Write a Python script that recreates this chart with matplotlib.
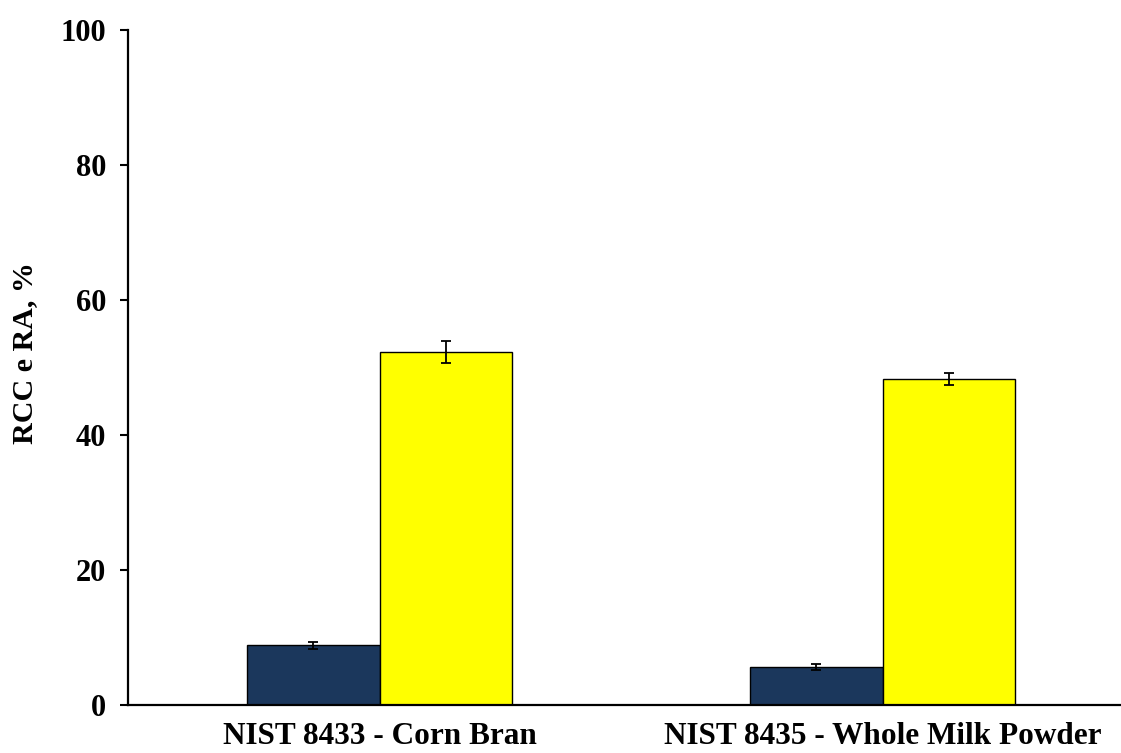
import matplotlib
matplotlib.use("Agg")
import matplotlib.pyplot as plt
import numpy as np

# Data
categories = ["NIST 8433 - Corn Bran", "NIST 8435 - Whole Milk Powder"]
rcc_values = [8.9, 5.7]
rcc_errors = [0.5, 0.4]
ra_values = [52.3, 48.3]
ra_errors = [1.6, 0.9]
y_ticks = [0, 20, 40, 60, 80, 100]

plt.rcParams["font.family"] = ["Liberation Serif", "DejaVu Serif"]
plt.rcParams["font.weight"] = "bold"

fig = plt.figure(figsize=(11.21, 7.53), dpi=100)
ax = fig.add_axes([128 / 1121, 47.7 / 753, 1006 / 1121, 675 / 753])

x = np.arange(len(categories))
w = 0.2626

err_kw = dict(elinewidth=1.3, capthick=1.3, ecolor="black")
ax.bar(x - w / 2, rcc_values, w, color="#1B375C", edgecolor="black",
       linewidth=1.0, yerr=rcc_errors, capsize=3.8, error_kw=err_kw, zorder=2)
ax.bar(x + w / 2, ra_values, w, color="#FFFF00", edgecolor="black",
       linewidth=1.0, yerr=ra_errors, capsize=3.8, error_kw=err_kw, zorder=2)

ax.set_xlim(-0.5, 1.5)
ax.set_ylim(0, 100)
ax.set_yticks(y_ticks)
ax.set_yticklabels([str(t) for t in y_ticks], fontsize=22, fontweight="bold")
ax.set_xticks(x)
ax.set_xticklabels(categories, fontsize=22.5, fontweight="bold")
ax.tick_params(axis="x", length=0, pad=12)
ax.tick_params(axis="y", length=5.8, width=1.5, direction="out", pad=10)

for side in ("top", "right"):
    ax.spines[side].set_visible(False)
for side in ("left", "bottom"):
    ax.spines[side].set_linewidth(1.6)
    ax.spines[side].set_color("black")

ax.set_ylabel("RCC e RA, %", fontsize=21.6, fontweight="bold")
ax.yaxis.set_label_coords(-0.0895, 0.522)

fig.savefig("out.png", dpi=100)
